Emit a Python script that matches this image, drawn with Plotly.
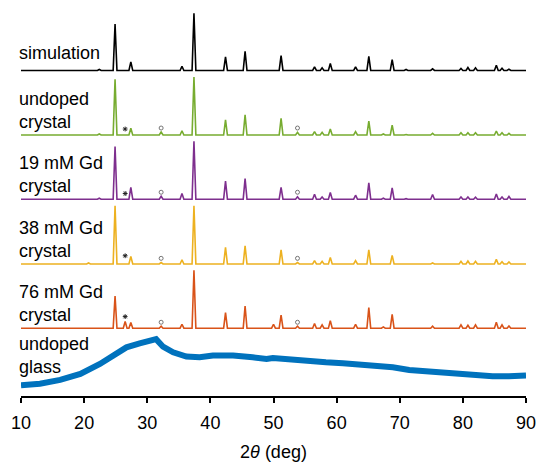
import plotly.graph_objects as go

# ---------------- data ----------------
# common peak positions, 2theta (deg)
peak_pos = [20.7, 22.4, 24.9, 26.5, 27.4, 32.2, 35.5, 37.4, 42.4, 45.5, 50.0, 51.2,
            53.8, 56.5, 57.7, 59.0, 63.0, 65.1, 67.4, 68.8, 71.0, 75.2, 79.7,
            80.8, 82.0, 85.3, 86.2, 87.3]

# peak intensities (arbitrary units) per sample
sim_int   = [0, 1.0, 46.7, 0, 8.7, 0, 4.3, 57.7, 13.7, 19.3, 0, 15.0,
             0, 3.7, 2.7, 7.0, 3.7, 14.3, 0, 11.0, 1.0, 1.7, 2.0,
             3.0, 2.7, 5.3, 2.3, 1.3]
undoped_int = [0, 1.0, 56.0, 0, 6.7, 3.0, 4.3, 58.3, 15.3, 20.3, 0, 16.7,
               2.7, 3.3, 2.7, 6.0, 3.3, 14.0, 1.0, 10.0, 0.5, 1.7, 2.3,
               2.3, 2.3, 4.0, 2.3, 1.7]
gd19_int  = [0, 1.0, 53.0, 0, 12.0, 3.0, 5.7, 58.3, 18.3, 20.7, 0, 12.0,
             2.5, 5.0, 2.3, 6.7, 4.0, 16.5, 1.0, 11.5, 0.5, 4.7, 2.3,
             2.3, 2.0, 5.3, 2.3, 2.7]
gd38_int  = [1.0, 0, 58.7, 0, 7.7, 1.5, 4.3, 58.7, 16.7, 18.3, 0, 14.3,
             1.5, 3.3, 2.7, 6.7, 3.3, 14.3, 0, 8.7, 0.5, 1.0, 2.7,
             3.0, 2.7, 4.7, 2.3, 2.0]
gd76_int  = [0, 0, 32.3, 6.7, 5.7, 2.0, 4.0, 58.3, 15.7, 22.3, 4.0, 13.3,
             2.0, 4.7, 3.3, 7.7, 4.0, 20.7, 1.3, 14.0, 0.5, 2.0, 3.3,
             3.0, 3.3, 6.0, 3.3, 2.3]

# undoped glass (broad amorphous hump)
glass_2t  = [10.0, 13.0, 16.2, 19.4, 22.5, 24.6, 26.7, 28.8, 30.4, 31.4, 32.5, 34.1,
             36.2, 38.3, 40.4, 43.6, 46.7, 48.9, 49.9, 53.1, 55.7, 58.3, 61.0,
             63.6, 66.2, 68.9, 71.5, 74.1, 76.8, 79.4, 82.0, 84.7, 87.3, 90.0]
glass_int = [10.7, 12.3, 16.3, 22.3, 32.3, 40.7, 49.0, 53.0, 55.0, 57.3, 49.7, 44.0,
             39.7, 39.0, 40.7, 40.7, 39.0, 37.3, 38.3, 36.3, 35.7, 34.0, 33.0,
             31.7, 30.7, 29.0, 26.3, 25.0, 23.0, 21.7, 20.7, 20.0, 20.0, 20.7]

# impurity markers: (* at 26.5 deg, o at 32.2 and 53.8 deg)
star_pos = [26.5]
circ_pos = [32.2, 53.8]

labels = ["simulation", "undoped<br>crystal", "19 mM Gd<br>crystal",
          "38 mM Gd<br>crystal", "76 mM Gd<br>crystal", "undoped<br>glass"]

x_ticks = [10, 20, 30, 40, 50, 60, 70, 80, 90]

# ---------------- styling / layout constants ----------------
offsets = [328.0, 263.0, 198.3, 133.0, 68.3, 0.0]
colors = ["#000000", "#77AC30", "#7E2F8E", "#EDB120", "#D95319", "#0072BD"]
label_y = [346, 288, 223, 158, 93, 41]
star_dy = [None, 6.0, 5.7, 8.3, 11.7]
circ_dy = [None, 7.0, 7.0, 5.7, 6.0]
HALF_W = 0.3
FONT = "Arial, Liberation Sans, sans-serif"


def profile(intensities, offset):
    xs, ys = [10.0], [offset]
    for p, h in zip(peak_pos, intensities):
        if h <= 0:
            continue
        xs += [p - HALF_W, p, p + HALF_W]
        ys += [offset, offset + h, offset]
    xs.append(90.0)
    ys.append(offset)
    return xs, ys


fig = go.Figure()
series = [sim_int, undoped_int, gd19_int, gd38_int, gd76_int]
for i, ints in enumerate(series):
    xs, ys = profile(ints, offsets[i])
    fig.add_trace(go.Scatter(x=xs, y=ys, mode="lines",
                             line=dict(color=colors[i], width=1.6),
                             showlegend=False, hoverinfo="skip"))
    if i > 0:
        fig.add_trace(go.Scatter(x=star_pos, y=[offsets[i] + star_dy[i]] * len(star_pos),
                                 mode="markers",
                                 marker=dict(symbol="asterisk-open", size=4,
                                             color="#222222",
                                             line=dict(color="#222222", width=1)),
                                 showlegend=False, hoverinfo="skip"))
        fig.add_trace(go.Scatter(x=circ_pos, y=[offsets[i] + circ_dy[i]] * len(circ_pos),
                                 mode="markers",
                                 marker=dict(symbol="circle-open", size=4,
                                             color="#666666",
                                             line=dict(color="#666666", width=0.9)),
                                 showlegend=False, hoverinfo="skip"))

fig.add_trace(go.Scatter(x=glass_2t, y=[v + offsets[5] for v in glass_int], mode="lines",
                         line=dict(color=colors[5], width=6),
                         showlegend=False, hoverinfo="skip"))

for txt, yy in zip(labels, label_y):
    fig.add_annotation(x=-0.0075, xref="paper", y=yy, yref="y", text=txt,
                       showarrow=False, xanchor="left", yanchor="middle",
                       align="left",
                       font=dict(family=FONT, size=18, color="#000000"))

fig.update_layout(
    width=536, height=462,
    margin=dict(l=21, r=9, t=0, b=63),
    paper_bgcolor="white", plot_bgcolor="white",
    font=dict(family=FONT, size=18, color="#000000"),
    xaxis=dict(range=[10, 90], tickvals=x_ticks, ticks="outside", ticklen=5,
               tickwidth=1.5, tickcolor="black", showline=True, linecolor="black",
               linewidth=1.5, showgrid=False, zeroline=False,
               ticklabelstandoff=5, ticklabeloverflow="allow",
               title=dict(text="2<i>θ</i> (deg)", standoff=16,
                          font=dict(size=18)),
               tickfont=dict(size=18)),
    yaxis=dict(range=[0, 399], visible=False, showgrid=False, zeroline=False),
)

fig.write_html("out.html",
               config={"displayModeBar": False},
               post_script="document.body.style.margin='0';"
                           "document.body.style.overflow='hidden';")
